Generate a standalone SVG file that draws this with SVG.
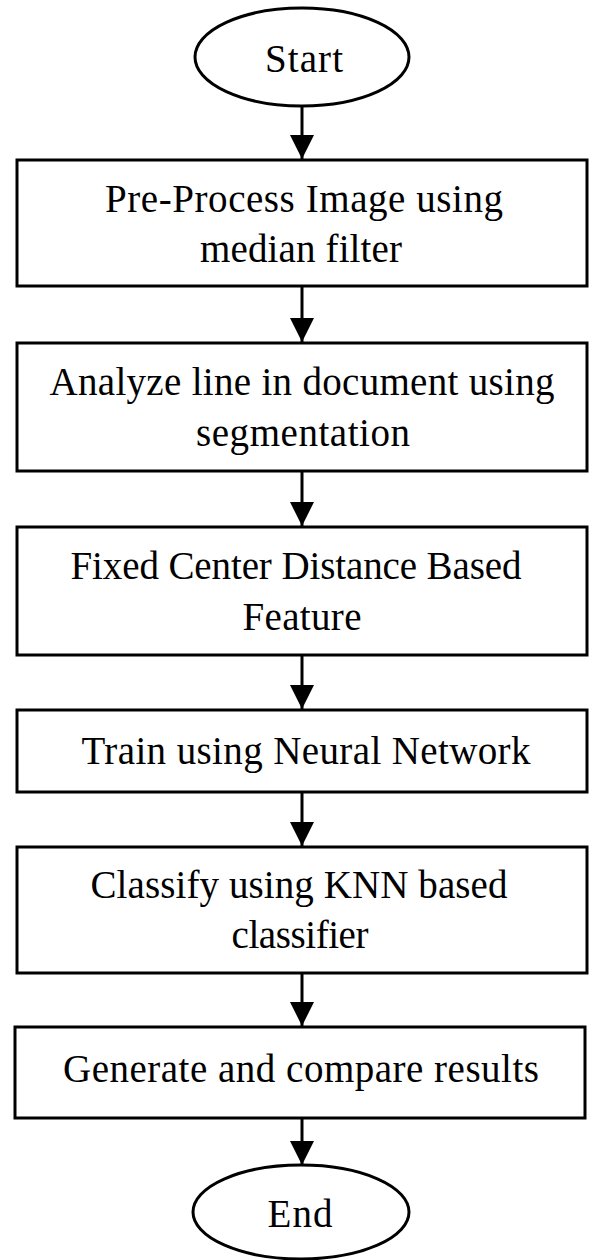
<svg xmlns="http://www.w3.org/2000/svg" width="597" height="1260" viewBox="0 0 597 1260">
<defs>
<marker id="ah" viewBox="0 0 24 24" refX="24" refY="12" markerWidth="24" markerHeight="24" markerUnits="userSpaceOnUse" orient="auto">
<path d="M0,0 L24,12 L0,24 Z" fill="#000"/>
</marker>
</defs>
<style>
.box{fill:#fff;stroke:#000;stroke-width:3}
.t{font-family:"Liberation Serif","Times New Roman",serif;font-size:39px;fill:#000;text-anchor:middle}
.c{stroke:#000;stroke-width:3;fill:none;marker-end:url(#ah)}
</style>
<rect width="597" height="1260" fill="#fff"/>
<g id="connectors">
<line class="c" x1="302" y1="106" x2="302" y2="159"/>
<line class="c" x1="302" y1="286" x2="302" y2="342"/>
<line class="c" x1="302" y1="471" x2="302" y2="526"/>
<line class="c" x1="302" y1="655" x2="302" y2="709"/>
<line class="c" x1="302" y1="792" x2="302" y2="846"/>
<line class="c" x1="302" y1="973" x2="302" y2="1026"/>
<line class="c" x1="302" y1="1118" x2="302" y2="1165"/>
</g>
<g id="start">
<ellipse class="box" cx="302" cy="57" rx="107" ry="49"/>
<text class="t" x="304" y="72" textLength="78">Start</text>
</g>
<g id="preprocess">
<rect class="box" x="17" y="160" width="570" height="126"/>
<text class="t" x="304" y="212" textLength="398">Pre-Process Image using</text>
<text class="t" x="301" y="262" textLength="202">median filter</text>
</g>
<g id="analyze">
<rect class="box" x="17" y="343" width="570" height="128"/>
<text class="t" x="302" y="395" textLength="505">Analyze line in document using</text>
<text class="t" x="303" y="446" textLength="214">segmentation</text>
</g>
<g id="feature">
<rect class="box" x="17" y="527" width="570" height="128"/>
<text class="t" x="296" y="579" textLength="451">Fixed Center Distance Based</text>
<text class="t" x="302" y="630" textLength="119">Feature</text>
</g>
<g id="train">
<rect class="box" x="17" y="710" width="570" height="82"/>
<text class="t" x="306" y="764" textLength="449">Train using Neural Network</text>
</g>
<g id="classify">
<rect class="box" x="17" y="847" width="570" height="126"/>
<text class="t" x="299" y="898" textLength="417">Classify using KNN based</text>
<text class="t" x="300" y="948" textLength="137">classifier</text>
</g>
<g id="generate">
<rect class="box" x="15" y="1027" width="570" height="91"/>
<text class="t" x="301" y="1082" textLength="476">Generate and compare results</text>
</g>
<g id="end">
<ellipse class="box" cx="301" cy="1212" rx="108" ry="47"/>
<text class="t" x="300" y="1227" textLength="65">End</text>
</g>
</svg>
